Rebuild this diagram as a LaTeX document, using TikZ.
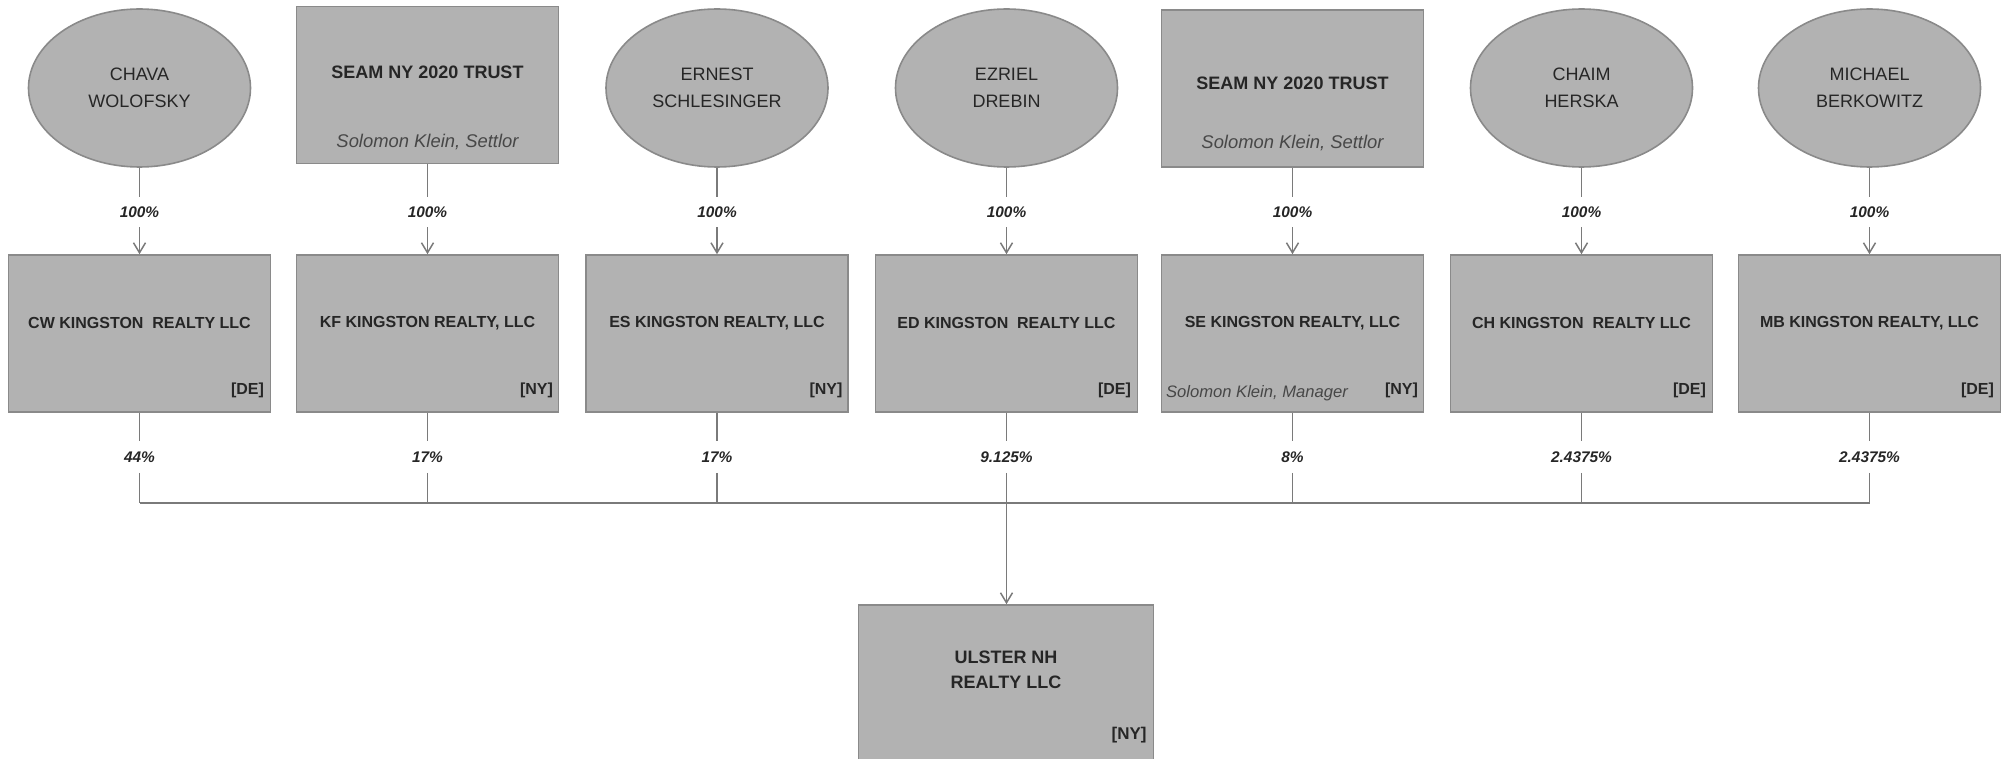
\documentclass[tikz,border=0pt]{standalone}
\usepackage{fontspec}
\setmainfont{Liberation Sans}
\usetikzlibrary{shapes.geometric,arrows.meta,calc}
\definecolor{boxfill}{HTML}{B2B2B2}
\definecolor{boxline}{HTML}{8A8A8A}
\definecolor{linec}{HTML}{7A7A7A}
\definecolor{txt}{HTML}{262626}
\definecolor{subtxt}{HTML}{474747}
\begin{document}
\begin{tikzpicture}[x=0.5pt,y=-0.5pt,
 person/.style={ellipse,draw=boxline,line width=0.8pt,fill=boxfill,minimum width=111pt,minimum height=79pt,inner sep=0pt,align=center,text=txt,font=\fontsize{9}{13.5}\selectfont},
 trustbox/.style={rectangle,draw=boxline,line width=0.8pt,fill=boxfill,minimum width=131pt,minimum height=78.5pt,inner sep=0pt},
 llcbox/.style={rectangle,draw=boxline,line width=0.8pt,fill=boxfill,minimum width=131pt,minimum height=78.5pt,inner sep=0pt},
 ttl/.style={text=txt,font=\bfseries\fontsize{9}{11}\selectfont,inner sep=0pt},
 llctext/.style={text=txt,font=\bfseries\fontsize{8}{10}\selectfont,inner sep=0pt},
 subtext/.style={text=subtxt,font=\itshape\fontsize{9.2}{11}\selectfont,inner sep=0pt},
 tagtext/.style={text=txt,font=\bfseries\fontsize{8}{10}\selectfont,inner sep=0pt,anchor=east},
 pctlab/.style={text=txt,font=\bfseries\itshape\fontsize{7.7}{9}\selectfont,inner xsep=1pt,inner ysep=4.75pt},
 conn/.style={draw=linec,line width=0.75pt},
 arr/.style={conn,-{Straight Barb[length=5pt,width=6pt]}}
]
\useasboundingbox (0,0) rectangle (2009,759);
\clip (0,0) rectangle (2009,759);

% top row: owners
\node[person] (p1) at (139.5,88) {CHAVA\\WOLOFSKY};
\node[trustbox] (p2) at (427.5,85) {};
\node[ttl] (p2t) at (427.5,72) {SEAM NY 2020 TRUST};
\node[subtext] (p2s) at (427.5,142) {Solomon Klein, Settlor};
\node[person] (p3) at (717,88) {ERNEST\\SCHLESINGER};
\node[person] (p4) at (1006.5,88) {EZRIEL\\DREBIN};
\node[trustbox] (p5) at (1292.5,88.5) {};
\node[ttl] (p5t) at (1292.5,83) {SEAM NY 2020 TRUST};
\node[subtext] (p5s) at (1292.5,143) {Solomon Klein, Settlor};
\node[person] (p6) at (1581.5,88) {CHAIM\\HERSKA};
\node[person] (p7) at (1869.5,88) {MICHAEL\\BERKOWITZ};

% second row: LLCs
\node[llcbox] (b1) at (139.5,333.5) {};
\node[llcbox] (b2) at (427.5,333.5) {};
\node[llcbox] (b3) at (717,333.5) {};
\node[llcbox] (b4) at (1006.5,333.5) {};
\node[llcbox] (b5) at (1292.5,333.5) {};
\node[llcbox] (b6) at (1581.5,333.5) {};
\node[llcbox] (b7) at (1869.5,333.5) {};

\node[llctext] (b1t) at ($(b1.center)+(0,5.25pt)$) {CW KINGSTON\ \ REALTY LLC};
\node[llctext] (b2t) at ($(b2.center)+(0,5.25pt)$) {KF KINGSTON REALTY, LLC};
\node[llctext] (b3t) at ($(b3.center)+(0,5.25pt)$) {ES KINGSTON REALTY, LLC};
\node[llctext] (b4t) at ($(b4.center)+(0,5.25pt)$) {ED KINGSTON\ \ REALTY LLC};
\node[llctext] (b5t) at ($(b5.center)+(0,5.25pt)$) {SE KINGSTON REALTY, LLC};
\node[llctext] (b6t) at ($(b6.center)+(0,5.25pt)$) {CH KINGSTON\ \ REALTY LLC};
\node[llctext] (b7t) at ($(b7.center)+(0,5.25pt)$) {MB KINGSTON REALTY, LLC};

\node[tagtext] (b1g) at ($(b1.south east)+(-3.5pt,11pt)$) {[DE]};
\node[tagtext] (b2g) at ($(b2.south east)+(-3pt,11pt)$) {[NY]};
\node[tagtext] (b3g) at ($(b3.south east)+(-3pt,11pt)$) {[NY]};
\node[tagtext] (b4g) at ($(b4.south east)+(-3.5pt,11pt)$) {[DE]};
\node[tagtext] (b5g) at ($(b5.south east)+(-3pt,11pt)$) {[NY]};
\node[tagtext] (b6g) at ($(b6.south east)+(-3.5pt,11pt)$) {[DE]};
\node[tagtext] (b7g) at ($(b7.south east)+(-3.5pt,11pt)$) {[DE]};
\node[subtext,anchor=west,font=\itshape\fontsize{8.3}{10}\selectfont] (b5s) at ($(b5.south west)+(2.5pt,10pt)$) {Solomon Klein, Manager};

% upper percentages
\foreach \i/\x in {1/139.5,2/427.5,3/717,4/1006.5,5/1292.5,6/1581.5,7/1869.5}{
  \node[pctlab] (q\i) at (\x,212) {100\%};
}
\foreach \i in {1,...,7}{
  \draw[conn] (p\i.south) -- (q\i.north);
  \draw[arr] (q\i.south) -- (b\i.north);
}

% lower percentages
\node[pctlab,inner ysep=5pt] (r1) at (139.5,457) {44\%};
\node[pctlab,inner ysep=5pt] (r2) at (427.5,457) {17\%};
\node[pctlab,inner ysep=5pt] (r3) at (717,457) {17\%};
\node[pctlab,inner ysep=5pt] (r4) at (1006.5,457) {9.125\%};
\node[pctlab,inner ysep=5pt] (r5) at (1292.5,457) {8\%};
\node[pctlab,inner ysep=5pt] (r6) at (1581.5,457) {2.4375\%};
\node[pctlab,inner ysep=5pt] (r7) at (1869.5,457) {2.4375\%};

\foreach \i/\x in {1/139.5,2/427.5,3/717,4/1006.5,5/1292.5,6/1581.5,7/1869.5}{
  \coordinate (j\i) at (\x,503);
}
\foreach \i in {1,...,7}{
  \draw[conn] (b\i.south) -- (r\i.north);
  \draw[conn] (r\i.south) -- (j\i);
}
\draw[conn] (j1) -- (j7);

% bottom entity
\node[llcbox,minimum width=147.5pt,minimum height=80pt] (u) at (1006,685) {};
\node[ttl,align=center,font=\bfseries\fontsize{9}{12.5}\selectfont] (ut) at (1006,669.5) {ULSTER NH\\REALTY LLC};
\node[tagtext,font=\bfseries\fontsize{8.5}{10}\selectfont] (ug) at (1147,735) {[NY]};
\draw[arr] (j4) -- (j4 |- u.north);
\end{tikzpicture}
\end{document}
